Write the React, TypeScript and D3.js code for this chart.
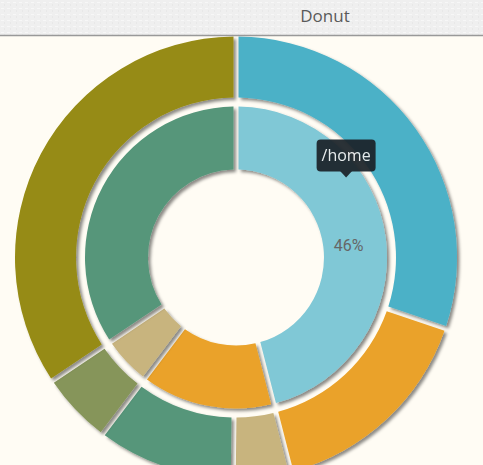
import React from 'react';
import * as d3 from 'd3';

// inner ring: mount points, outer ring: their sub-parts
const innerLabels = ['/home', '/usr', '/var', '/'];
const innerValues = [46, 14.3, 5.3, 34.4];
const innerColors = ['#80c8d6', '#eaa229', '#c8b47e', '#56967a'];

const outerLabels = ['used', 'free', 'log', 'lib', 'cache', 'root'];
const outerValues = [30.2, 15.8, 4.2, 10.1, 5.3, 34.4];
const outerColors = ['#4bb1c7', '#eaa229', '#c8b47e', '#56967a', '#86955a', '#968b13'];

const activeLabel = '/home';

const W = 483;
const H = 465;

export default function App() {
  const cx = 236;
  const cy = 257.5;

  const pie = d3.pie<number>().sort(null).value(d => d);
  const innerArcs = pie(innerValues);
  const outerArcs = pie(outerValues);

  const innerArc = d3.arc<d3.PieArcDatum<number>>()
    .innerRadius(88).outerRadius(151)
    .padAngle(0.05).padRadius(100);
  const outerArc = d3.arc<d3.PieArcDatum<number>>()
    .innerRadius(160).outerRadius(221)
    .padAngle(0.05).padRadius(100);

  const total = d3.sum(innerValues);
  const pct = d3.format('.0%');

  const ai = innerLabels.indexOf(activeLabel);
  const act = innerArcs[ai];
  const [lx, ly] = innerArc.centroid(act);

  // tooltip anchor inside the active slice
  const tipAngle = act.startAngle + (act.endAngle - act.startAngle) * 0.33;
  const tipR = 135;
  const tx = cx + tipR * Math.sin(tipAngle);
  const ty = cy - tipR * Math.cos(tipAngle);

  return (
    <svg width={W} height={H} style={{ position: 'absolute', left: 0, top: 0, background: '#fffcf4' }}>
      <defs>
        <filter id="shadow" x="-20%" y="-20%" width="140%" height="140%">
          <feDropShadow dx="2.5" dy="2.5" stdDeviation="1.8" floodColor="#000" floodOpacity="0.45" />
        </filter>
        <pattern id="paper" width="6" height="6" patternUnits="userSpaceOnUse">
          <rect width="6" height="6" fill="#efefef" />
          <rect x="1" y="2" width="3" height="1" fill="#f7f7f7" />
          <rect x="4" y="4" width="1" height="2" fill="#e8e8e8" />
        </pattern>
      </defs>

      <g transform={`translate(${cx},${cy})`}>
        {outerArcs.map((d, i) => (
          <path key={outerLabels[i]} d={outerArc(d) || ''} fill={outerColors[i]} filter="url(#shadow)" />
        ))}
        {innerArcs.map((d, i) => (
          <path key={innerLabels[i]} d={innerArc(d) || ''} fill={innerColors[i]} filter="url(#shadow)" />
        ))}
        <text x={lx - 6} y={ly + 3} textAnchor="middle" dominantBaseline="central"
          style={{ fontFamily: 'Roboto, sans-serif', fontSize: 16, fill: '#666' }}>
          {pct(innerValues[ai] / total)}
        </text>
      </g>

      {/* tooltip */}
      <g transform={`translate(${tx},${ty})`} opacity={0.93}>
        <rect x={-29.5} y={-40} width={59} height={32} rx={4} fill="#1b2329" />
        <path d="M-6,-8.5 L6,-8.5 L0,-2 Z" fill="#1b2329" />
        <text x={0} y={-24} textAnchor="middle" dominantBaseline="central"
          style={{ fontFamily: '"Open Sans", sans-serif', fontSize: 16, fill: '#eee' }}>
          {activeLabel}
        </text>
      </g>

      {/* header */}
      <rect x={0} y={0} width={W} height={35} fill="url(#paper)" />
      <line x1={0} x2={W} y1={35.5} y2={35.5} stroke="#999" strokeWidth={1.5} />
      <text x={325} y={22} textAnchor="middle"
        style={{ fontFamily: '"Open Sans", sans-serif', fontSize: 17, fill: '#5a5a5a' }}>
        Donut
      </text>
    </svg>
  );
}
